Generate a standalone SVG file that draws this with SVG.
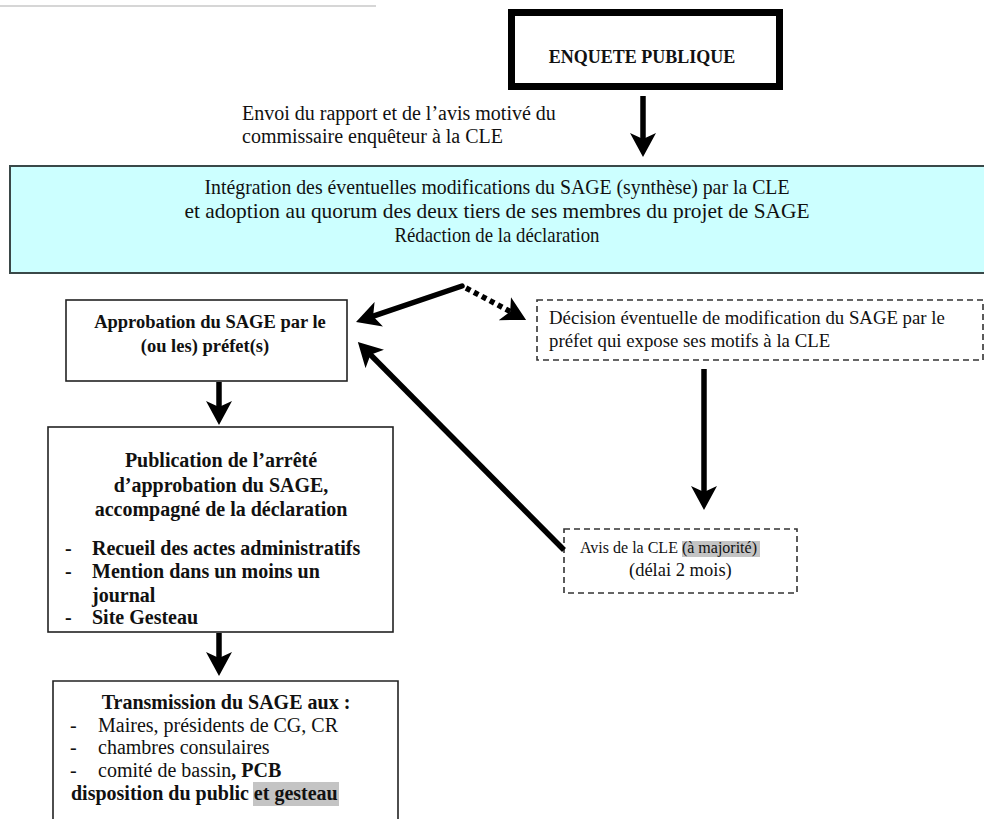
<svg xmlns="http://www.w3.org/2000/svg" width="984" height="819" viewBox="0 0 984 819">
<style>
text{font-family:"Liberation Serif","Times New Roman",serif;fill:#111}
.b{font-weight:bold}
.box{fill:#fff;stroke:#222;stroke-width:1.6}
.dash{fill:#fff;stroke:#333;stroke-width:1.6;stroke-dasharray:6 4}
.arr{stroke:#000;stroke-width:5.5;fill:none}
.hl{fill:#c4c4c4}
</style>
<defs>
<marker id="ah" markerUnits="userSpaceOnUse" viewBox="0 0 24 26" markerWidth="24" markerHeight="26" refX="12" refY="13" orient="auto">
<path d="M0,0 L24,13 L0,26 L6,13 z" fill="#000"/>
</marker>
</defs>
<rect width="984" height="819" fill="#fff"/>
<line x1="0" y1="6" x2="376" y2="6" stroke="#d6d6d6" stroke-width="2"/>

<g id="enquete">
<rect x="511.5" y="12.5" width="268" height="74" fill="#fff" stroke="#000" stroke-width="7"/>
<text class="b" x="642" y="63" font-size="18" text-anchor="middle">ENQUETE PUBLIQUE</text>
</g>

<g id="envoi-label">
<text x="242" y="120" font-size="20">Envoi du rapport et de l’avis motivé du</text>
<text x="242" y="143" font-size="20">commissaire enquêteur à la CLE</text>
</g>

<g id="integration">
<rect x="10" y="166" width="990" height="107" fill="#ccffff" stroke="#3a4848" stroke-width="2"/>
<text x="497" y="194" font-size="21" text-anchor="middle" textLength="585" lengthAdjust="spacingAndGlyphs">Intégration des éventuelles modifications du SAGE (synthèse) par la CLE</text>
<text x="497" y="218" font-size="21" text-anchor="middle" textLength="625" lengthAdjust="spacingAndGlyphs">et adoption au quorum des deux tiers de ses membres du projet de SAGE</text>
<text x="497" y="242" font-size="21" text-anchor="middle" textLength="205" lengthAdjust="spacingAndGlyphs">Rédaction de la déclaration</text>
</g>

<g id="approbation">
<rect class="box" x="66" y="300" width="281" height="81"/>
<text class="b" x="210" y="328" font-size="18.5" text-anchor="middle">Approbation du SAGE par le</text>
<text class="b" x="205" y="352" font-size="18.5" text-anchor="middle">(ou les) préfet(s)</text>
</g>

<g id="decision">
<rect class="dash" x="537" y="300" width="446" height="60"/>
<text x="549" y="324" font-size="18.8">Décision éventuelle de modification du SAGE par le</text>
<text x="549" y="347" font-size="18.8">préfet qui expose ses motifs à la CLE</text>
</g>

<g id="avis">
<rect class="dash" x="564" y="529" width="233" height="64"/>
<rect class="hl" x="682" y="541" width="78" height="16"/>
<text x="580" y="553" font-size="16">Avis de la CLE (à majorité)</text>
<text x="629" y="576" font-size="18.5">(délai 2 mois)</text>
</g>

<g id="publication">
<rect class="box" x="48" y="427" width="345" height="205"/>
<text class="b" x="221" y="467" font-size="20" text-anchor="middle">Publication de l’arrêté</text>
<text class="b" x="221" y="492" font-size="20" text-anchor="middle">d’approbation du SAGE,</text>
<text class="b" x="221" y="516" font-size="20" text-anchor="middle">accompagné de la déclaration</text>
<text class="b" x="65" y="555" font-size="20">-</text>
<text class="b" x="92" y="555" font-size="20">Recueil des actes administratifs</text>
<text class="b" x="65" y="578" font-size="20">-</text>
<text class="b" x="92" y="578" font-size="20">Mention dans un moins un</text>
<text class="b" x="92" y="602" font-size="20">journal</text>
<text class="b" x="65" y="624" font-size="20">-</text>
<text class="b" x="92" y="624" font-size="20">Site Gesteau</text>
</g>

<g id="transmission">
<path d="M53,830 V681 H398 V830" fill="#fff" stroke="#222" stroke-width="1.6"/>
<rect class="hl" x="253" y="782" width="86" height="24"/>
<text class="b" x="226" y="709" font-size="20" text-anchor="middle">Transmission du SAGE aux :</text>
<text x="70" y="732" font-size="20">-</text>
<text x="98" y="732" font-size="20">Maires, présidents de CG, CR</text>
<text x="70" y="754" font-size="20">-</text>
<text x="98" y="754" font-size="20">chambres consulaires</text>
<text x="70" y="777" font-size="20">-</text>
<text x="98" y="777" font-size="20">comité de bassin<tspan class="b">, PCB</tspan></text>
<text class="b" x="71" y="800" font-size="20">disposition du public et gesteau</text>
</g>

<g id="connectors">
<line class="arr" x1="643" y1="96" x2="643" y2="145" marker-end="url(#ah)"/>
<line class="arr" x1="462" y1="286" x2="367.4" y2="318.1" stroke-linecap="round" marker-end="url(#ah)"/>
<line class="arr" x1="466" y1="288" x2="515.5" y2="314.3" stroke-dasharray="5 4" marker-end="url(#ah)"/>
<line class="arr" x1="219" y1="382" x2="219" y2="413" marker-end="url(#ah)"/>
<line class="arr" x1="219" y1="633" x2="219" y2="664" marker-end="url(#ah)"/>
<line class="arr" x1="704" y1="369" x2="704" y2="498" marker-end="url(#ah)"/>
<line class="arr" x1="564" y1="550" x2="366.3" y2="350.5" marker-end="url(#ah)"/>
</g>
</svg>
